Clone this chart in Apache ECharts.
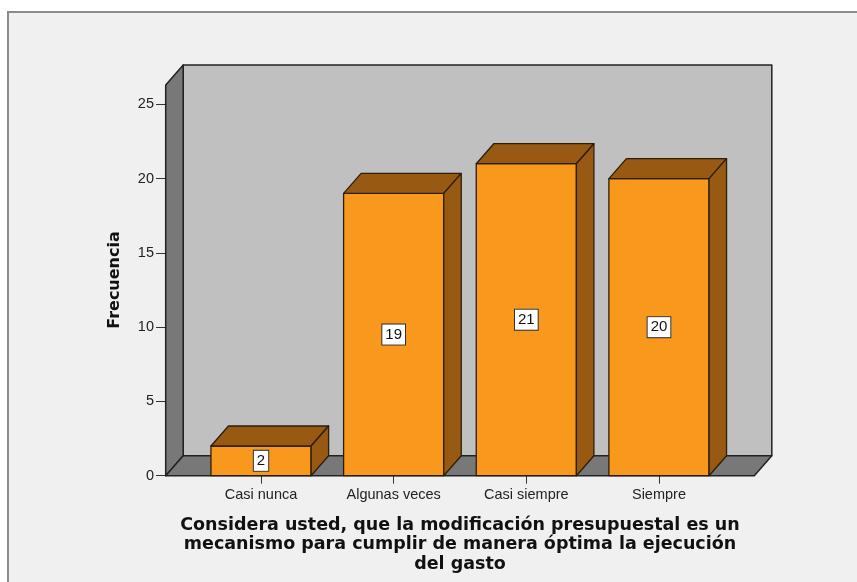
<!DOCTYPE html>
<html>
<head>
<meta charset="utf-8">
<script src="https://cdn.jsdelivr.net/npm/echarts@6/dist/echarts.min.js"></script>
<style>
    html, body { margin: 0; padding: 0; background: #fff; overflow: hidden; }
    .wrap { position: relative; width: 857px; height: 582px; overflow: hidden; }
    .frame {
        position: absolute; left: 7px; top: 11px; width: 900px; height: 620px;
        background: #f0f0f0; border-top: 2px solid #8c8c8c; border-left: 2px solid #8c8c8c;
    }
    #chart { position: absolute; left: 0; top: 0; width: 857px; height: 582px; }
</style>
</head>
<body>
<div class="wrap">
    <div class="frame"></div>
    <div id="chart"></div>
</div>
<script>
// datos
const categories = ['Casi nunca', 'Algunas veces', 'Casi siempre', 'Siempre']
const frecuencias = [2, 19, 21, 20]
const yTicks = [0, 5, 10, 15, 20, 25]
const wallTop = 26.3
const xTitle = 'Considera usted, que la modificación presupuestal es un\nmecanismo para cumplir de manera óptima la ejecución\ndel gasto'

// estilo 3D
const DX = 17.5
const DY = 20
const PAD = 29
const edge = '#222'

const chart = echarts.init(document.getElementById('chart'))

const renderBox = (params, api) => {
    const cs = params.coordSys
    const xL = cs.x - PAD
    const xR = cs.x + cs.width + PAD
    const yB = api.coord([0, 0])[1]
    const yT = api.coord([0, wallTop])[1]
    const st = (fill) => ({ fill: fill, stroke: edge, lineWidth: 1.5, lineJoin: 'round' })
    return {
        type: 'group',
        children: [
            { type: 'rect', shape: { x: xL + DX, y: yT - DY, width: xR - xL, height: yB - yT }, style: st('#c0c0c0') },
            { type: 'polygon', shape: { points: [[xL, yB], [xL, yT], [xL + DX, yT - DY], [xL + DX, yB - DY]] }, style: st('#787878') },
            { type: 'polygon', shape: { points: [[xL, yB], [xR, yB], [xR + DX, yB - DY], [xL + DX, yB - DY]] }, style: st('#787878') }
        ]
    }
}

const renderBar = (params, api) => {
    const i = api.value(0)
    const v = api.value(1)
    const base = api.coord([i, 0])
    const top = api.coord([i, v])
    const mid = api.coord([i, v / 2])
    const w = api.size([1, 0])[0] * 0.755
    const x0 = base[0] - w / 2
    const x1 = base[0] + w / 2
    const st = (fill) => ({ fill: fill, stroke: '#2a1e0c', lineWidth: 1.3, lineJoin: 'round' })
    return {
        type: 'group',
        children: [
            { type: 'rect', shape: { x: x0, y: top[1], width: w, height: base[1] - top[1] }, style: st('#f8991d') },
            { type: 'polygon', shape: { points: [[x0, top[1]], [x1, top[1]], [x1 + DX, top[1] - DY], [x0 + DX, top[1] - DY]] }, style: st('#985a12') },
            { type: 'polygon', shape: { points: [[x1, top[1]], [x1, base[1]], [x1 + DX, base[1] - DY], [x1 + DX, top[1] - DY]] }, style: st('#985a12') },
            {
                type: 'text',
                x: mid[0], y: mid[1],
                style: {
                    text: String(v), fill: '#111', font: '15px "Liberation Sans", Arial, sans-serif',
                    align: 'center', verticalAlign: 'middle',
                    backgroundColor: '#fff', borderColor: '#333', borderWidth: 1, padding: [3, 3, 2, 3]
                }
            }
        ]
    }
}

chart.setOption({
    animation: false,
    textStyle: { fontFamily: '"Liberation Sans", Arial, sans-serif' },
    grid: { left: 194.7, right: 131.7, top: 104.3, bottom: 106.3 },
    xAxis: {
        type: 'category',
        data: categories,
        axisLine: { show: false },
        axisTick: { show: true, alignWithLabel: true, length: 8, lineStyle: { color: '#333' } },
        axisLabel: { color: '#222', fontSize: 14.5, margin: 12 },
        name: xTitle,
        nameLocation: 'middle',
        nameGap: 40,
        nameTextStyle: {
            color: '#111', fontSize: 17.5, fontWeight: 'bold', lineHeight: 19.5, align: 'center',
            fontFamily: '"DejaVu Sans", Verdana, sans-serif'
        }
    },
    yAxis: {
        type: 'value',
        min: yTicks[0],
        max: yTicks[yTicks.length - 1],
        interval: 5,
        offset: 28.7,
        axisLine: { show: false },
        axisTick: { show: true, length: 10, lineStyle: { color: '#333' } },
        axisLabel: { color: '#222', fontSize: 14.5, margin: 12 },
        splitLine: { show: false }
    },
    graphic: [{
        type: 'text', x: 115, y: 280, rotation: Math.PI / 2,
        style: {
            text: 'Frecuencia', fill: '#111', align: 'center', verticalAlign: 'middle',
            font: 'bold 16px "DejaVu Sans", Verdana, sans-serif'
        }
    }],
    series: [
        { type: 'custom', clip: false, z: 1, silent: true, renderItem: renderBox, data: [[0, 0]] },
        { type: 'custom', clip: false, z: 2, silent: true, renderItem: renderBar, data: frecuencias.map((f, i) => [i, f]) }
    ]
})
</script>
</body>
</html>
